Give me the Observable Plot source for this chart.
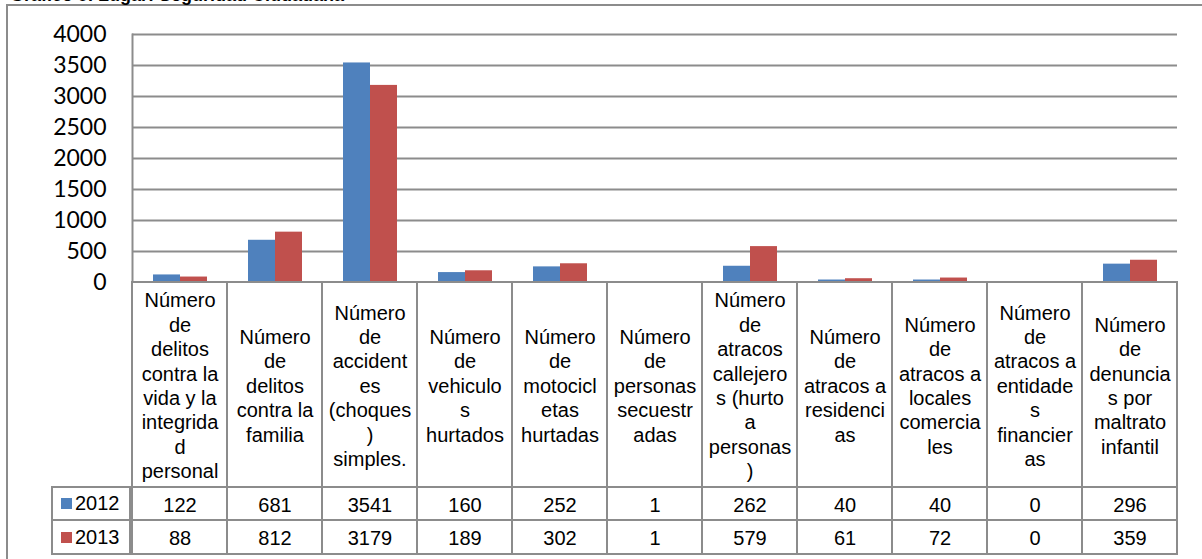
<!DOCTYPE html>
<html>
<head>
<meta charset="utf-8">
<script src="https://cdn.jsdelivr.net/npm/d3@7"></script>
<script src="https://cdn.jsdelivr.net/npm/@observablehq/plot@0.6"></script>
<style>
  html, body { margin: 0; padding: 0; background: #fff; }
  #wrap { position: relative; width: 1202px; height: 559px; overflow: hidden; background: #fff; }
  .abs { position: absolute; }
  #frame { left: 6px; top: 4px; width: 1400px; height: 800px; border: 2px solid #8c8c8c; box-sizing: border-box; }
  #title { left: 10px; top: -14px; font: bold 18px "Liberation Sans", Arial, sans-serif; line-height: 18px; white-space: nowrap; color: #000; }
  .leg { left: 51px; width: 80px; box-sizing: border-box; border: 2px solid #8c8c8c; font: 20px "Liberation Sans", Arial, sans-serif; display: flex; align-items: center; background: #fff; }
  .sw { display: inline-block; width: 11px; height: 11px; margin-left: 8px; margin-right: 3px; }
</style>
</head>
<body>
<div id="wrap">
  <div id="frame" class="abs"></div>
  <div id="title" class="abs">Gráfico 9. Lugar: Seguridad Ciudadana</div>
</div>
<script>
const categories = [
  "Número de delitos contra la vida y la integridad personal",
  "Número de delitos contra la familia",
  "Número de accidentes (choques) simples.",
  "Número de vehiculos hurtados",
  "Número de motocicletas hurtadas",
  "Número de personas secuestradas",
  "Número de atracos callejeros (hurto a personas)",
  "Número de atracos a residencias",
  "Número de atracos a locales comerciales",
  "Número de atracos a entidades financieras",
  "Número de denuncias por maltrato infantil"
];
const tickLabels = [
  "Número\nde\ndelitos\ncontra la\nvida y la\nintegrida\nd\npersonal",
  "Número\nde\ndelitos\ncontra la\nfamilia",
  "Número\nde\naccident\nes\n(choques\n)\nsimples.",
  "Número\nde\nvehiculo\ns\nhurtados",
  "Número\nde\nmotocicl\netas\nhurtadas",
  "Número\nde\npersonas\nsecuestr\nadas",
  "Número\nde\natracos\ncallejero\ns (hurto\na\npersonas\n)",
  "Número\nde\natracos a\nresidenci\nas",
  "Número\nde\natracos a\nlocales\ncomercia\nles",
  "Número\nde\natracos a\nentidade\ns\nfinancier\nas",
  "Número\nde\ndenuncia\ns por\nmaltrato\ninfantil"
];
const years = ["2012", "2013"];
const values2012 = [122, 681, 3541, 160, 252, 1, 262, 40, 40, 0, 296];
const values2013 = [88, 812, 3179, 189, 302, 1, 579, 61, 72, 0, 359];
const colors = ["#4F81BD", "#C0504D"];
const yTicks = [0, 500, 1000, 1500, 2000, 2500, 3000, 3500, 4000];

const seriesValues = [values2012, values2013];
const data = [];
categories.forEach((c, i) => years.forEach((y, j) => data.push({cat: c, year: y, value: seriesValues[j][i]})));

const W = 1202, ML = 129, MR = 22;
const grid = "#8c8c8c";
const wrap = document.getElementById("wrap");

function place(el, top) {
  el.classList.add("abs");
  el.style.left = "0px";
  el.style.top = top + "px";
  wrap.appendChild(el);
}

// Chart
const chart = Plot.plot({
  width: W, height: 284,
  marginLeft: ML, marginRight: MR, marginTop: 34, marginBottom: 2,
  style: {fontFamily: "Lato, sans-serif", background: "transparent", overflow: "visible"},
  fx: {domain: categories, padding: 0, axis: null, label: null},
  x: {domain: years, paddingInner: 0, paddingOuter: 0.72, axis: null, label: null},
  y: {domain: [0, 4000], ticks: yTicks, label: null},
  color: {domain: years, range: colors},
  marks: [
    Plot.gridY(yTicks, {stroke: grid, strokeOpacity: 1, strokeWidth: 2}),
    Plot.barY(data, {fx: "cat", x: "year", y: "value", fill: "year"}),
    Plot.axisY(yTicks, {tickSize: 0, tickPadding: 26, fontSize: 23, fill: "#000", label: null, tickFormat: d => String(d)}),
    Plot.frame({anchor: "left", facetAnchor: "left", stroke: grid, strokeWidth: 2})
  ]
});
place(chart, 0);

// Table
function tableRow(height, texts, fontSize) {
  return Plot.plot({
    width: W, height,
    marginLeft: ML, marginRight: MR, marginTop: 1, marginBottom: 1,
    style: {fontFamily: "'Liberation Sans', Arial, sans-serif", background: "transparent", overflow: "visible"},
    x: {domain: categories, padding: 0, axis: null},
    marks: [
      Plot.cell(categories, {x: d => d, fill: "white", stroke: grid, strokeWidth: 2}),
      Plot.text(categories, {x: d => d, text: (d, i) => texts[i], frameAnchor: "middle", lineHeight: 1.22, fontSize, fill: "#000"})
    ]
  });
}
place(tableRow(207, tickLabels, 20), 281);
place(tableRow(35, values2012.map(String), 20), 486);
place(tableRow(36, values2013.map(String), 20), 519);

// Legend cells of the data table
const legTops = [486, 519];
years.forEach((y, j) => {
  const d = document.createElement("div");
  d.className = "leg abs";
  d.style.top = legTops[j] + "px";
  d.style.height = (j === 0 ? 35 : 36) + "px";
  d.innerHTML = `<span class="sw" style="background:${colors[j]}"></span>${y}`;
  wrap.appendChild(d);
});
</script>
</body>
</html>
